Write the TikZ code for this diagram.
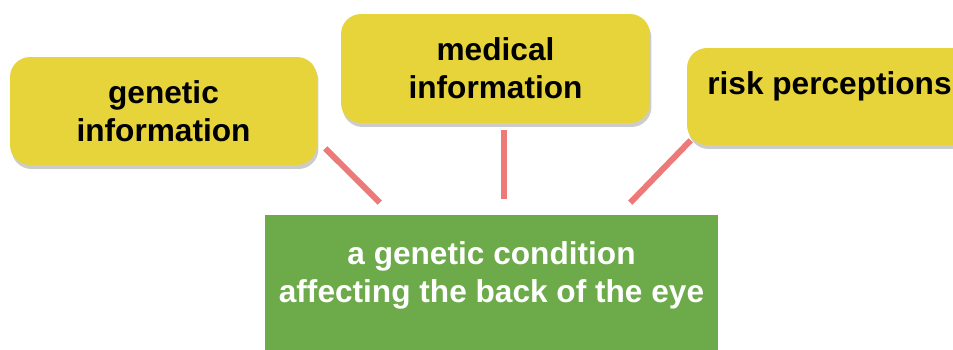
\documentclass[tikz,border=0pt]{standalone}
\usepackage{fontspec}
\setmainfont{Liberation Sans}
\usetikzlibrary{shadows,calc}
\definecolor{stickyyellow}{RGB}{231,212,58}
\definecolor{leafgreen}{RGB}{108,170,74}
\definecolor{linkred}{RGB}{234,98,98}
\begin{document}
\begin{tikzpicture}[x=0.02cm, y=-0.02cm, every node/.style={align=center, inner sep=0pt, font=\fontsize{18}{21.5}\selectfont\bfseries}, topic/.style={fill=stickyyellow, rounded corners=0.4cm, drop shadow={shadow xshift=0.03cm, shadow yshift=-0.08cm, opacity=0.4}}, link/.style={draw=linkred, line width=0.12cm, opacity=0.85}]
\clip (0,0) rectangle (953,349);
\node[topic, minimum width=6.14cm, minimum height=2.16cm] (gen) at (163.5,111) {genetic\\information};
\node[topic, minimum width=6.18cm, minimum height=2.18cm] (med) at (495.5,68.5) {medical\\information};
\node[topic, minimum width=5.7cm, minimum height=1.94cm, text depth=0.52cm] (risk) at (829.5,96.5) {risk perceptions};
\node[fill=leafgreen, text=white, minimum width=9.06cm, minimum height=2.8cm, text depth=0.52cm] (cond) at (491.5,285) {a genetic condition\\affecting the back of the eye};
\draw[link] ($(gen.south east)+(8,-17)$) -- ($(cond.north west)+(115,-12)$);
\draw[link] ($(med.south)+(8,7)$) -- ($(cond.north)+(12,-16)$);
\draw[link] ($(risk.south west)+(4,-5)$) -- ($(cond.north east)+(-88,-12)$);
\end{tikzpicture}
\end{document}
